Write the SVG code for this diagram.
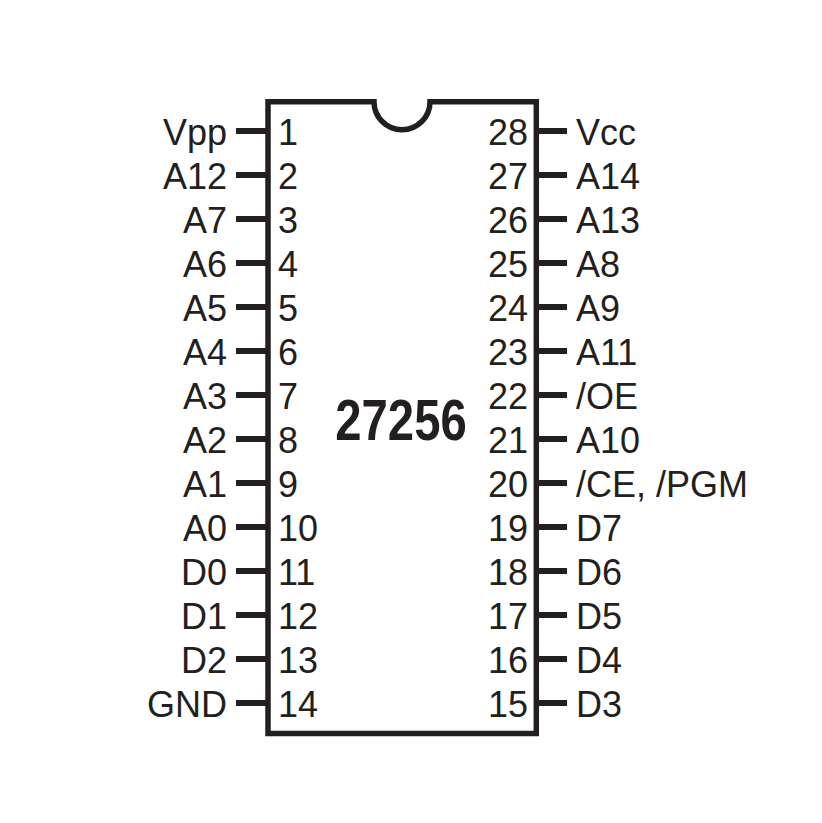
<svg xmlns="http://www.w3.org/2000/svg" width="822" height="823" viewBox="0 0 822 823">
<style>
.body{fill:none;stroke:#231f20;stroke-width:5.5}
.pin{stroke:#231f20;stroke-width:6}
text{font-family:"Liberation Sans",Arial,sans-serif;font-size:36px;fill:#231f20}
.l{text-anchor:end}
.title{font-weight:bold;font-size:58px;text-anchor:middle}
</style>
<rect width="822" height="823" fill="#fff"/>
<g id="chip">
<path class="body" d="M268,101.7 H374 A28,28 0 0 0 430,101.7 H536.3 V733.5 H268 Z"/>
<text class="title" transform="translate(401,440) scale(0.815,1)">27256</text>
</g>
<g id="connectors">
<path class="pin" d="M236,131H266M236,175H266M236,219H266M236,263H266M236,307H266M236,351H266M236,395H266M236,439H266M236,483H266M236,527H266M236,571H266M236,615H266M236,659H266M236,703H266"/>
<path class="pin" d="M538,131H567M538,175H567M538,219H567M538,263H567M538,307H567M538,351H567M538,395H567M538,439H567M538,483H567M538,527H567M538,571H567M538,615H567M538,659H567M538,703H567"/>
</g>
<g id="left-pins">
<text class="l" x="227" y="145">Vpp</text><text x="278" y="145">1</text>
<text class="l" x="227" y="189">A12</text><text x="278" y="189">2</text>
<text class="l" x="227" y="233">A7</text><text x="278" y="233">3</text>
<text class="l" x="227" y="277">A6</text><text x="278" y="277">4</text>
<text class="l" x="227" y="321">A5</text><text x="278" y="321">5</text>
<text class="l" x="227" y="365">A4</text><text x="278" y="365">6</text>
<text class="l" x="227" y="409">A3</text><text x="278" y="409">7</text>
<text class="l" x="227" y="453">A2</text><text x="278" y="453">8</text>
<text class="l" x="227" y="497">A1</text><text x="278" y="497">9</text>
<text class="l" x="227" y="541">A0</text><text x="278" y="541">10</text>
<text class="l" x="227" y="585">D0</text><text x="278" y="585">11</text>
<text class="l" x="227" y="629">D1</text><text x="278" y="629">12</text>
<text class="l" x="227" y="673">D2</text><text x="278" y="673">13</text>
<text class="l" x="227" y="717">GND</text><text x="278" y="717">14</text>
</g>
<g id="right-pins">
<text class="l" x="528" y="145">28</text><text x="576" y="145">Vcc</text>
<text class="l" x="528" y="189">27</text><text x="576" y="189">A14</text>
<text class="l" x="528" y="233">26</text><text x="576" y="233">A13</text>
<text class="l" x="528" y="277">25</text><text x="576" y="277">A8</text>
<text class="l" x="528" y="321">24</text><text x="576" y="321">A9</text>
<text class="l" x="528" y="365">23</text><text x="576" y="365">A11</text>
<text class="l" x="528" y="409">22</text><text x="576" y="409">/OE</text>
<text class="l" x="528" y="453">21</text><text x="576" y="453">A10</text>
<text class="l" x="528" y="497">20</text><text x="576" y="497">/CE, /PGM</text>
<text class="l" x="528" y="541">19</text><text x="576" y="541">D7</text>
<text class="l" x="528" y="585">18</text><text x="576" y="585">D6</text>
<text class="l" x="528" y="629">17</text><text x="576" y="629">D5</text>
<text class="l" x="528" y="673">16</text><text x="576" y="673">D4</text>
<text class="l" x="528" y="717">15</text><text x="576" y="717">D3</text>
</g>
</svg>
